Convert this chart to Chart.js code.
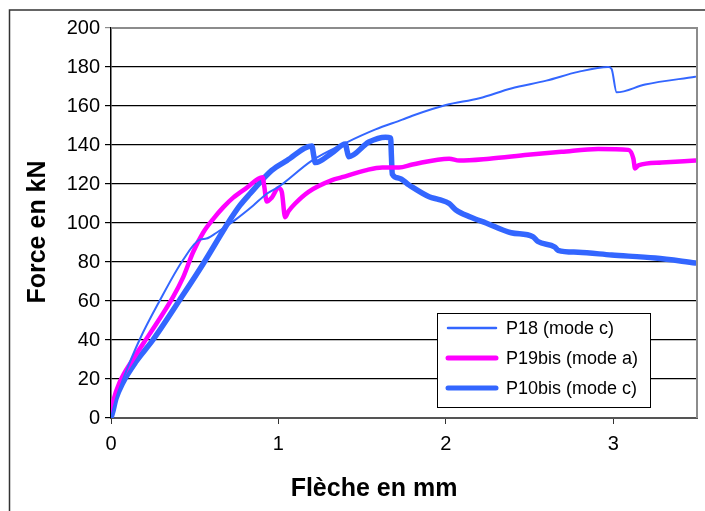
<!DOCTYPE html>
<html>
<head>
<meta charset="utf-8">
<script src="https://cdn.jsdelivr.net/npm/chart.js@4/dist/chart.umd.min.js"></script>
<style>
    body { margin: 0; background: #fff; }
    canvas { display: block; }
</style>
</head>
<body>
<canvas id="chart" width="705" height="511"></canvas>
<script>
const xTitle = "Flèche en mm"
const yTitle = "Force en kN"

const p18Label = "P18 (mode c)"
const p18X = [0, 0.03, 0.07, 0.17, 0.29, 0.43, 0.53, 0.57, 0.63, 0.74, 0.85, 0.93, 1.0, 1.2, 1.4, 1.58, 1.74, 1.8, 2.0, 2.2, 2.39, 2.6, 2.79, 2.97, 2.99, 3.02, 3.19, 3.49]
const p18Y = [0, 10, 19.5, 40, 60, 81, 91.5, 92, 95, 101.5, 109, 115, 118.5, 132, 141, 148, 153, 155, 160.5, 164, 169, 173, 177.5, 180, 179, 167, 171, 175]

const p19Label = "P19bis (mode a)"
const p19X = [0, 0.014, 0.05, 0.13, 0.23, 0.37, 0.43, 0.49, 0.55, 0.61, 0.67, 0.73, 0.81, 0.905, 0.915, 0.93, 0.96, 1.0, 1.02, 1.04, 1.06, 1.1, 1.18, 1.32, 1.38, 1.52, 1.62, 1.72, 1.8, 2.02, 2.08, 2.26, 2.49, 2.69, 2.91, 3.09, 3.12, 3.13, 3.15, 3.29, 3.49]
const p19Y = [3, 9, 18, 30, 43, 62, 72, 85, 95, 102, 108, 113, 118, 123.5, 119, 111, 113, 118, 116, 103, 106, 110, 116, 122, 123.5, 127, 128.5, 128.5, 130, 133, 132, 133, 135, 136.5, 138, 137.5, 133, 128, 129.5, 131, 132]

const p10Label = "P10bis (mode c)"
const p10X = [0, 0.01, 0.03, 0.07, 0.15, 0.25, 0.41, 0.55, 0.67, 0.71, 0.77, 0.83, 0.96, 1.05, 1.2, 1.21, 1.22, 1.32, 1.4, 1.41, 1.42, 1.54, 1.64, 1.67, 1.675, 1.68, 1.72, 1.78, 1.9, 1.96, 2.02, 2.06, 2.15, 2.24, 2.39, 2.52, 2.55, 2.65, 2.67, 2.79, 2.99, 3.25, 3.49]
const p10Y = [0, 3, 10, 18, 29, 40, 60.5, 79, 96, 101.5, 109, 115, 127, 132, 139.5, 135, 131, 136, 140.5, 137, 134, 141.5, 144, 143.6, 134, 125, 123, 119.5, 113.5, 112, 110, 106.7, 103, 100, 95, 93, 90.5, 87.7, 86, 85, 83.6, 82, 79.5]

const xTicks = { min: 0, max: 3.5, step: 1 }
const yTicks = { min: 0, max: 200, step: 20 }

const fontFamily = "'Liberation Sans', Arial, sans-serif"

function toPoints(xs, ys) {
    return xs.map((x, i) => ({ x: x, y: ys[i] }))
}

// frame, axis titles and the legend box drawn by hand like the excel original
const decorations = {
    id: "decorations",
    afterDatasetsDraw(chart) {
        const ctx = chart.ctx
        const area = chart.chartArea
        ctx.save()
        ctx.strokeStyle = "#8c8c8c"
        ctx.lineWidth = 2
        ctx.beginPath()
        ctx.moveTo(area.left, area.top)
        ctx.lineTo(area.right, area.top)
        ctx.lineTo(area.right, area.bottom)
        ctx.stroke()
        ctx.restore()
    },
    afterDraw(chart) {
        const ctx = chart.ctx
        ctx.save()

        // outer border
        ctx.strokeStyle = "#333"
        ctx.lineWidth = 1.5
        ctx.strokeRect(9.5, 10, 720, 520)

        // axis titles
        ctx.fillStyle = "#000"
        ctx.font = "bold 25px " + fontFamily
        ctx.textAlign = "center"
        ctx.textBaseline = "middle"
        ctx.fillText(xTitle, 374, 489)
        ctx.translate(38, 232)
        ctx.rotate(-Math.PI / 2)
        ctx.fillText(yTitle, 0, 0)
        ctx.setTransform(1, 0, 0, 1, 0, 0)

        // legend
        ctx.fillStyle = "#fff"
        ctx.fillRect(437, 313, 213, 94)
        ctx.strokeStyle = "#000"
        ctx.lineWidth = 1
        ctx.strokeRect(437.5, 313.5, 213, 94)
        ctx.font = "18px " + fontFamily
        ctx.textAlign = "left"
        chart.data.datasets.forEach((ds, i) => {
            const y = 328 + i * 30
            ctx.strokeStyle = ds.borderColor
            ctx.lineWidth = ds.legendWidth
            ctx.lineCap = "round"
            ctx.beginPath()
            ctx.moveTo(448, y)
            ctx.lineTo(496, y)
            ctx.stroke()
            ctx.fillStyle = "#000"
            ctx.fillText(ds.label, 506, y + 1)
        })
        ctx.restore()
    }
}

const ctx = document.querySelector("#chart").getContext("2d")

new Chart(ctx, {
    type: "scatter",
    data: {
        datasets: [
            {
                label: p18Label,
                data: toPoints(p18X, p18Y),
                borderColor: "#3366ff",
                borderWidth: 2,
                legendWidth: 2.5
            },
            {
                label: p19Label,
                data: toPoints(p19X, p19Y),
                borderColor: "#ff00ff",
                borderWidth: 4.5,
                legendWidth: 5
            },
            {
                label: p10Label,
                data: toPoints(p10X, p10Y),
                borderColor: "#3366ff",
                borderWidth: 5.5,
                legendWidth: 5
            }
        ].map(ds => ({
            ...ds,
            showLine: true,
            pointRadius: 0,
            borderJoinStyle: "round",
            borderCapStyle: "round",
            cubicInterpolationMode: "monotone"
        }))
    },
    options: {
        responsive: false,
        animation: false,
        layout: { padding: { top: 28, right: 8, left: 0, bottom: 0 } },
        plugins: {
            legend: { display: false },
            tooltip: { enabled: false }
        },
        scales: {
            x: {
                type: "linear",
                min: xTicks.min,
                max: xTicks.max,
                afterFit: scale => { scale.height = 93 },
                ticks: {
                    stepSize: xTicks.step,
                    includeBounds: false,
                    color: "#000",
                    padding: 8,
                    font: { family: fontFamily, size: 20 }
                },
                grid: {
                    drawOnChartArea: false,
                    tickLength: 6,
                    color: "#333"
                },
                border: { color: "#555", width: 2 }
            },
            y: {
                min: yTicks.min,
                max: yTicks.max,
                afterFit: scale => { scale.width = 111 },
                ticks: {
                    stepSize: yTicks.step,
                    color: "#000",
                    padding: 5,
                    font: { family: fontFamily, size: 20 }
                },
                grid: {
                    tickLength: 6,
                    lineWidth: 1.2,
                    color: c => (c.tick && c.tick.value === yTicks.max) ? "#8c8c8c" : "#000"
                },
                border: { color: "#000", width: 1.5 }
            }
        }
    },
    plugins: [decorations]
})
</script>
</body>
</html>
